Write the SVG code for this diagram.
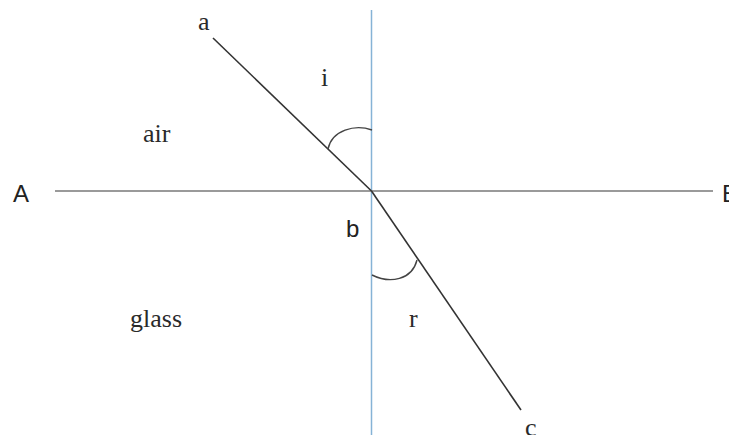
<svg xmlns="http://www.w3.org/2000/svg" width="729" height="435" viewBox="0 0 729 435">
<style>
.serif{font-family:"Liberation Serif","DejaVu Serif",serif;font-size:26px;fill:#2a2a2a}
.sans{font-family:"Liberation Sans","DejaVu Sans",sans-serif;font-size:24px;fill:#222}
.ray{stroke:#333;stroke-width:1.6;fill:none}
.arc{stroke:#444;stroke-width:1.4;fill:none}
</style>
<rect width="729" height="435" fill="#fff"/>
<g id="connectors">
<line id="normal" x1="371.5" y1="10" x2="371.5" y2="435" stroke="#86b3d6" stroke-width="1.5"/>
<line id="surface" x1="55" y1="191" x2="713" y2="191" stroke="#9a9a9a" stroke-width="2"/>
<line id="incident" class="ray" x1="213" y1="38" x2="371.5" y2="191"/>
<line id="refracted" class="ray" x1="371.5" y1="191" x2="521" y2="410"/>
<path id="arc-i" class="arc" d="M328,149 C332,130 355,124 372,130"/>
<path id="arc-r" class="arc" d="M372,275 C390,284 412,280 417,260"/>
</g>
<g id="label-a"><text class="serif" x="198" y="30">a</text></g>
<g id="label-i"><text class="serif" x="321" y="86">i</text></g>
<g id="label-air"><text class="serif" x="143" y="142">air</text></g>
<g id="label-A"><text class="sans" x="13" y="202">A</text></g>
<g id="label-B"><text class="sans" x="722" y="202">B</text></g>
<g id="label-b"><text class="sans" x="346" y="237">b</text></g>
<g id="label-glass"><text class="serif" x="130" y="327">glass</text></g>
<g id="label-r"><text class="serif" x="409" y="327">r</text></g>
<g id="label-c"><text class="serif" x="525" y="436">c</text></g>
</svg>
